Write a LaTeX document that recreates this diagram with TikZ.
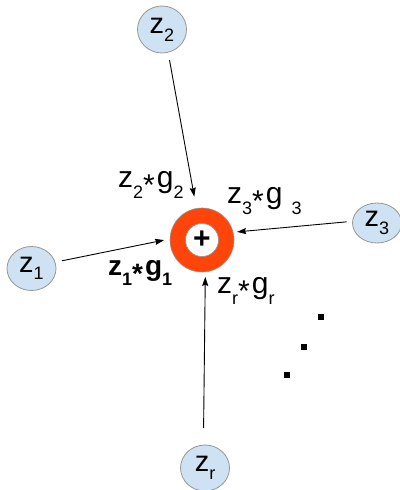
\documentclass[tikz,border=0pt]{standalone}
\usepackage{fontspec}
\setmainfont{Liberation Sans}
\usepackage{tikz}
\usetikzlibrary{shapes.geometric, arrows.meta}
\definecolor{zfill}{RGB}{207,226,243}
\definecolor{zframe}{RGB}{150,150,150}
\definecolor{ringred}{RGB}{255,69,10}
\newcommand{\lowsub}[2]{\raisebox{-#1}{\fontsize{18}{18}\selectfont #2}}
\newcommand{\lowstar}{\raisebox{-8pt}{*}\hspace{2pt}}
\tikzset{
  zin/.style={ellipse, draw=zframe, fill=zfill, line width=0.8pt,
    inner sep=0pt, outer sep=0pt, font=\fontsize{29}{29}\selectfont},
  ring/.style={circle, draw=zframe, fill=ringred, line width=0.6pt,
    minimum size=64pt, inner sep=0pt, outer sep=0pt},
  hole/.style={circle, draw=zframe, fill=white, line width=0.6pt,
    minimum size=33pt, inner sep=0pt, outer sep=0pt,
    font=\bfseries\fontsize{30}{30}\selectfont},
  arrow/.style={-{Stealth[length=9pt,width=6pt,inset=1pt]}, line width=0.9pt, color=black},
  prodlbl/.style={anchor=base west, inner sep=0pt, font=\fontsize{30}{30}\selectfont}
}

\begin{document}
\begin{tikzpicture}[x=1pt, y=-1pt]
  \useasboundingbox (0,0) rectangle (399,490);
  % ── inputs ──
  \node[zin, minimum width=49pt, minimum height=44pt] (z1) at (31.5,268.5) {z\lowsub{7pt}{1}};
  \node[zin, minimum width=49pt, minimum height=47pt] (z2) at (162,29.5) {z\lowsub{8pt}{2}};
  \node[zin, minimum width=49pt, minimum height=40pt] (z3) at (377,223) {z\lowsub{8pt}{3}};
  \node[zin, minimum width=49pt, minimum height=46pt] (zr) at (205,468) {z\lowsub{8pt}{r}};
  % summing ring
  \node[ring] (sum) at (202,240) {};
  \node[hole] (plus) at (sum) {+};
  % ── weighted arrows ──
  \draw[arrow, shorten <=7pt, shorten >=6pt] (z1.15) -- (sum.178);
  \draw[arrow, shorten <=8pt, shorten >=12pt] (z2.-75) -- (sum.100);
  \draw[arrow, shorten <=6pt, shorten >=4pt] (z3.176) -- (sum.14);
  \draw[arrow, shorten <=17pt, shorten >=5pt] (zr.94) -- (sum.-84);
  % products
  \node[prodlbl, font=\bfseries\fontsize{28}{28}\selectfont] (p1) at (108,275) {z\lowsub{10pt}{1}\lowstar g\lowsub{10pt}{1}};
  \node[prodlbl] (p2) at (118,187) {z\lowsub{11pt}{2}\lowstar g\lowsub{11pt}{2}};
  \node[prodlbl] (p3) at (227,203) {z\lowsub{11pt}{3}\lowstar g\hspace{9pt}\lowsub{11pt}{3}};
  \node[prodlbl] (pr) at (217,293) {z\lowsub{11pt}{r}\lowstar g\lowsub{11pt}{r}};
  % dots
  \foreach \cx/\cy in {321/316.7, 304/347, 287/374.7}
    \fill (\cx-2.8,\cy-2.8) rectangle (\cx+2.8,\cy+2.8);
\end{tikzpicture}
\end{document}
